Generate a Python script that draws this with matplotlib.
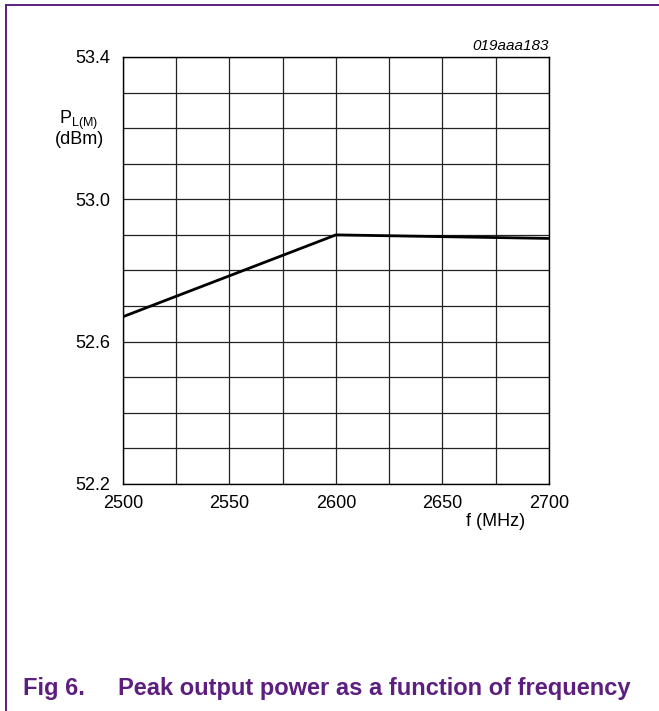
import numpy as np
import matplotlib
matplotlib.use('Agg')
import matplotlib.pyplot as plt
from matplotlib.lines import Line2D

plt.rcParams['font.family'] = 'Liberation Sans'
plt.rcParams['mathtext.fontset'] = 'custom'
plt.rcParams['mathtext.rm'] = 'Liberation Sans'
plt.rcParams['mathtext.it'] = 'Liberation Sans:italic'

### Peak output power vs frequency
freq_mhz = [2500, 2600, 2700]
peak_power_dbm = [52.67, 52.90, 52.89]

x_ticks = [2500, 2550, 2600, 2650, 2700]
y_ticks = [52.2, 52.6, 53.0, 53.4]

purple = '#5c1f80'
fs = 13

fig = plt.figure(figsize=(6.59, 7.11), dpi=100)

### frame round the figure (only left and top edges show)
fig.add_artist(Line2D([0.0085, 0.0085], [0.0, 0.9935], transform=fig.transFigure,
                      color=purple, lw=1.4))
fig.add_artist(Line2D([0.0085, 1.0], [0.9935, 0.9935], transform=fig.transFigure,
                      color=purple, lw=1.4))

ax = fig.add_axes([0.1866, 0.3193, 0.6464, 0.6006])
ax.plot(freq_mhz, peak_power_dbm, color='black', lw=2.0, solid_capstyle='butt', zorder=3)

grid_x = np.arange(2500, 2701, 25)
grid_y = np.round(np.arange(52.2, 53.41, 0.1), 1)
ax.set_xlim(2500, 2700)
ax.set_ylim(52.2, 53.4)
ax.set_xticks(grid_x)
ax.set_yticks(grid_y)
ax.grid(True, color='#222222', lw=0.9)
ax.set_xticklabels([str(v) if v in x_ticks else '' for v in grid_x])
ax.set_yticklabels([('%.1f' % v) if any(abs(v - t) < 1e-6 for t in y_ticks) else ''
                    for v in grid_y])
ax.tick_params(axis='both', length=0, labelsize=fs)
ax.tick_params(axis='x', pad=8)
ax.tick_params(axis='y', pad=9)
for sp in ax.spines.values():
    sp.set_color('black')
    sp.set_linewidth(1.0)

fig.text(496 / 659, 1 - 522 / 711, 'f (MHz)', ha='center', va='center', fontsize=fs)
fig.text(79 / 659, 1 - 120 / 711, r'P$_{\mathrm{L(M)}}$', ha='center', va='center', fontsize=fs)
fig.text(79 / 659, 1 - 140 / 711, '(dBm)', ha='center', va='center', fontsize=fs)
fig.text(549 / 659, 1 - 46 / 711, '019aaa183', ha='right', va='center', fontsize=11,
         style='italic')

fig.text(23 / 659, 1 - 689 / 711, 'Fig 6.', ha='left', va='center', fontsize=17,
         fontweight='bold', color=purple)
fig.text(118 / 659, 1 - 689 / 711, 'Peak output power as a function of frequency',
         ha='left', va='center', fontsize=17, fontweight='bold', color=purple)

fig.savefig('out.png', dpi=100)
